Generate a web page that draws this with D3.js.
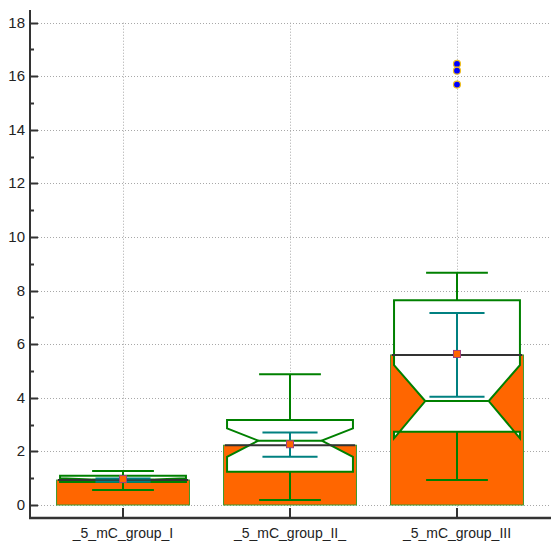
<!DOCTYPE html>
<html>
<head>
<meta charset="utf-8">
<script src="https://cdn.jsdelivr.net/npm/d3@7"></script>
<style>
  html, body { margin: 0; padding: 0; background: #fff; }
  svg { display: block; }
  .lbl { font-family: "Liberation Sans Narrow", "Arial Narrow", "Liberation Sans", Arial, sans-serif; fill: #222; }
</style>
</head>
<body>
<svg id="chart" width="551" height="542"></svg>
<script>
// Groups and their summary statistics
const categories = ["_5_mC_group_I", "_5_mC_group_II_", "_5_mC_group_III"];
const means      = [0.93, 2.23, 5.60];
const errLow     = [0.87, 1.80, 4.04];
const errHigh    = [0.99, 2.71, 7.17];
const whiskerLow = [0.56, 0.19, 0.93];
const whiskerHigh= [1.27, 4.88, 8.67];
const q1         = [0.86, 1.24, 2.73];
const medians    = [0.95, 2.40, 3.88];
const q3         = [1.09, 3.17, 7.64];
const notchLow   = [0.90, 1.80, 2.49];
const notchHigh  = [1.00, 2.86, 5.22];
const outliers   = [[], [], [16.46, 16.21, 15.69]];
const yTicks     = [0, 2, 4, 6, 8, 10, 12, 14, 16, 18];
const yMinorTicks= [1, 3, 5, 7, 9, 11, 13, 15, 17];

const svg = d3.select("#chart");
const axisX = 30, axisY = 518;

const x = d3.scalePoint().domain(categories).range([30, 550]).padding(0.557);
const y = d3.scaleLinear().domain([0, 18]).range([505, 22.7]);
const step = x.step();

const C = {
  bar: "#ff6600", green: "#008000", teal: "#008080", dark: "#333333",
  grid: "#a8a8a8", markStroke: "#a0407a"
};

// Grid
const grid = svg.append("g");
grid.selectAll("line.h").data(yTicks).join("line")
  .attr("x1", axisX + 8).attr("x2", 551)
  .attr("y1", d => Math.round(y(d)) + 0.5).attr("y2", d => Math.round(y(d)) + 0.5)
  .attr("stroke", C.grid).attr("stroke-width", 1).attr("stroke-dasharray", "1,2");
grid.selectAll("line.v").data(categories).join("line")
  .attr("x1", d => Math.round(x(d)) + 0.5).attr("x2", d => Math.round(x(d)) + 0.5)
  .attr("y1", y(18)).attr("y2", axisY)
  .attr("stroke", C.grid).attr("stroke-width", 1).attr("stroke-dasharray", "1,2");

const idx = d3.range(categories.length);
const cx = i => x(categories[i]);

// Mean bars
svg.append("g").selectAll("rect").data(idx).join("rect")
  .attr("x", i => cx(i) - step * 0.398)
  .attr("width", step * 0.796)
  .attr("y", i => y(means[i]))
  .attr("height", i => y(0) - y(means[i]))
  .attr("fill", C.bar).attr("stroke", "#3c9a2c").attr("stroke-width", 1);

// Notched boxes
const boxHalf = step * 0.377, notchHalf = step * 0.19;
svg.append("g").selectAll("path").data(idx).join("path")
  .attr("d", i => {
    const c = cx(i), L = c - boxHalf, R = c + boxHalf;
    const li = c - notchHalf, ri = c + notchHalf;
    const pts = [
      [L, y(q3[i])], [R, y(q3[i])], [R, y(notchHigh[i])], [ri, y(medians[i])],
      [R, y(notchLow[i])], [R, y(q1[i])], [L, y(q1[i])], [L, y(notchLow[i])],
      [li, y(medians[i])], [L, y(notchHigh[i])]
    ];
    return d3.line()(pts) + "Z";
  })
  .attr("fill", "#fff").attr("stroke", C.green).attr("stroke-width", 2)
  .attr("stroke-linejoin", "miter");

// Median lines between the notch points
svg.append("g").selectAll("line").data(idx).join("line")
  .attr("x1", i => cx(i) - notchHalf).attr("x2", i => cx(i) + notchHalf)
  .attr("y1", i => y(medians[i])).attr("y2", i => y(medians[i]))
  .attr("stroke", C.green).attr("stroke-width", 2);

// Whiskers
const capHalf = step * 0.185;
const wh = svg.append("g").attr("stroke", C.green).attr("stroke-width", 2);
idx.forEach(i => {
  const c = cx(i);
  wh.append("line").attr("x1", c).attr("x2", c).attr("y1", y(q3[i])).attr("y2", y(whiskerHigh[i]));
  wh.append("line").attr("x1", c).attr("x2", c).attr("y1", y(q1[i])).attr("y2", y(whiskerLow[i]));
  wh.append("line").attr("x1", c - capHalf).attr("x2", c + capHalf).attr("y1", y(whiskerHigh[i])).attr("y2", y(whiskerHigh[i]));
  wh.append("line").attr("x1", c - capHalf).attr("x2", c + capHalf).attr("y1", y(whiskerLow[i])).attr("y2", y(whiskerLow[i]));
});

// Mean lines across bars
svg.append("g").selectAll("line").data(idx).join("line")
  .attr("x1", i => cx(i) - step * 0.39).attr("x2", i => cx(i) + step * 0.39)
  .attr("y1", i => y(means[i])).attr("y2", i => y(means[i]))
  .attr("stroke", C.dark).attr("stroke-width", 2);

// Error bars
const errHalf = step * 0.165;
const eb = svg.append("g").attr("stroke", C.teal).attr("stroke-width", 2);
idx.forEach(i => {
  const c = cx(i);
  eb.append("line").attr("x1", c).attr("x2", c).attr("y1", y(errHigh[i])).attr("y2", y(errLow[i]));
  eb.append("line").attr("x1", c - errHalf).attr("x2", c + errHalf).attr("y1", y(errHigh[i])).attr("y2", y(errHigh[i]));
  eb.append("line").attr("x1", c - errHalf).attr("x2", c + errHalf).attr("y1", y(errLow[i])).attr("y2", y(errLow[i]));
});

// Mean markers
svg.append("g").selectAll("rect").data(idx).join("rect")
  .attr("x", i => cx(i) - 3.5).attr("y", i => y(means[i]) - 4.5)
  .attr("width", 7).attr("height", 7)
  .attr("fill", C.bar).attr("stroke", C.markStroke).attr("stroke-width", 1);

// Outliers
const outPts = idx.flatMap(i => outliers[i].map(v => ({ i, v })));
svg.append("g").selectAll("circle").data(outPts).join("circle")
  .attr("cx", d => cx(d.i)).attr("cy", d => y(d.v)).attr("r", 3.5)
  .attr("fill", "#0000ff").attr("stroke", "#f0c020").attr("stroke-width", 1.2);

// Axes
const ax = svg.append("g").attr("stroke", C.dark);
ax.append("line").attr("x1", axisX).attr("x2", axisX).attr("y1", 10).attr("y2", axisY + 1).attr("stroke-width", 2);
ax.append("line").attr("x1", axisX - 1).attr("x2", 551).attr("y1", axisY).attr("y2", axisY).attr("stroke-width", 2.5);
ax.selectAll("line.maj").data(yTicks).join("line")
  .attr("x1", axisX).attr("x2", axisX + 8)
  .attr("y1", d => Math.round(y(d)) + 0.5).attr("y2", d => Math.round(y(d)) + 0.5)
  .attr("stroke-width", 2);
ax.selectAll("line.min").data(yMinorTicks).join("line")
  .attr("x1", axisX).attr("x2", axisX + 4)
  .attr("y1", d => Math.round(y(d)) + 0.5).attr("y2", d => Math.round(y(d)) + 0.5)
  .attr("stroke-width", 2);
ax.selectAll("line.xt").data(categories).join("line")
  .attr("x1", d => x(d)).attr("x2", d => x(d))
  .attr("y1", axisY - 10).attr("y2", axisY)
  .attr("stroke-width", 2);

// Labels
svg.append("g").selectAll("text").data(yTicks).join("text")
  .attr("class", "lbl")
  .attr("x", 25).attr("y", d => y(d) + 5)
  .attr("text-anchor", "end").attr("font-size", 15)
  .text(d => d);
svg.append("g").selectAll("text").data(categories).join("text")
  .attr("class", "lbl")
  .attr("x", d => x(d)).attr("y", 538)
  .attr("text-anchor", "middle").attr("font-size", 14)
  .text(d => d);
</script>
</body>
</html>
